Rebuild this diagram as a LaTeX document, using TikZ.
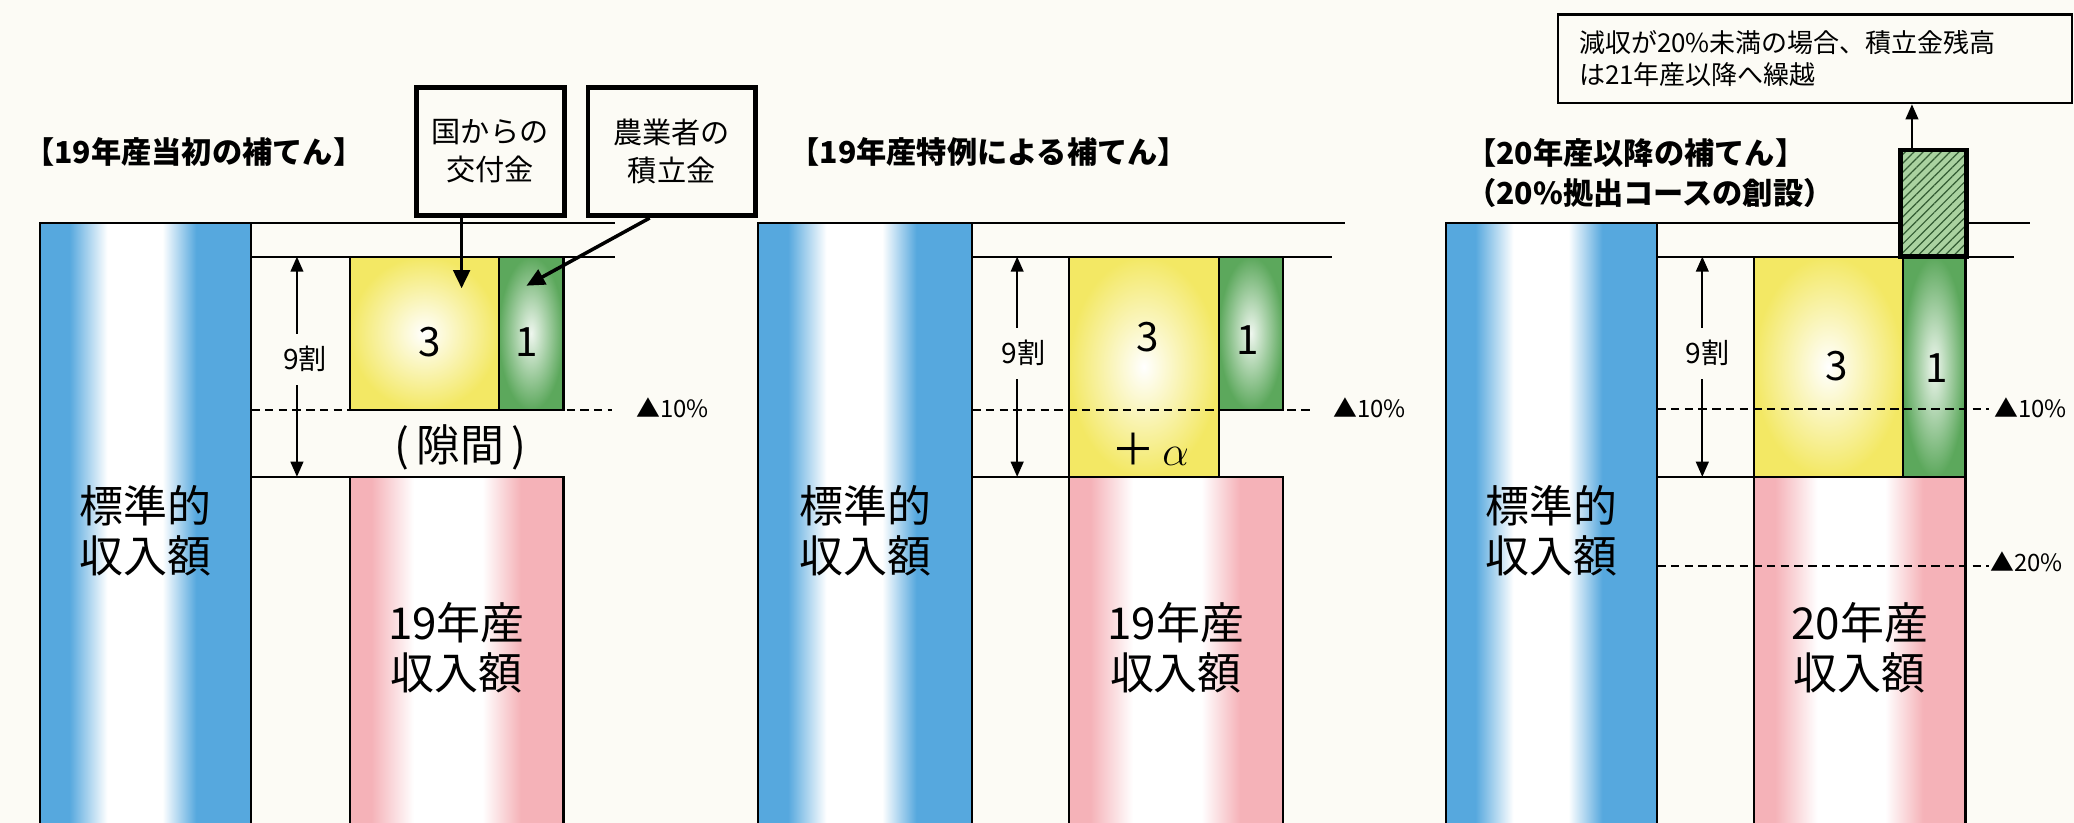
\documentclass[tikz,border=0pt]{standalone}
\usepackage{fontspec}
\setmainfont{Noto Sans CJK JP}
\usetikzlibrary{arrows.meta,positioning,patterns.meta}

\definecolor{bgcream}{RGB}{252,251,245}
\definecolor{stdblue}{RGB}{86,168,222}
\definecolor{incpink}{RGB}{245,178,184}
\definecolor{govyellow}{RGB}{243,232,100}
\definecolor{farmgreen}{RGB}{92,168,92}
\definecolor{hatchgreen}{RGB}{170,210,160}

\pgfdeclarehorizontalshading{stdshade}{100bp}{color(0bp)=(stdblue); color(25bp)=(stdblue); color(32bp)=(stdblue); color(41bp)=(white); color(54bp)=(white); color(62bp)=(stdblue); color(75bp)=(stdblue); color(100bp)=(stdblue)}
\pgfdeclarehorizontalshading{incshade}{100bp}{color(0bp)=(incpink); color(25bp)=(incpink); color(30bp)=(incpink); color(40bp)=(white); color(56bp)=(white); color(65bp)=(incpink); color(75bp)=(incpink); color(100bp)=(incpink)}

\begin{document}
\begin{tikzpicture}[x=0.013227cm, y=-0.013227cm,
    >={Triangle[length=4.3pt,width=3.6pt]},
    thinline/.style={line width=0.6pt},
    limitline/.style={line width=0.6pt, dash pattern=on 2.4pt off 1.5pt},
    stdbar/.style={draw, line width=0.6pt, shade, shading=stdshade},
    incbar/.style={draw, line width=0.6pt, shade, shading=incshade},
    govbox/.style={draw, line width=0.6pt, inner color=white, outer color=govyellow},
    farmbox/.style={draw, line width=0.6pt, inner color=farmgreen!10, outer color=farmgreen},
    feed/.style={line width=1pt, -{Triangle[length=5.2pt,width=4.7pt]}},
    headline/.style={font=\bfseries\fontsize{8.6}{11.3}\selectfont, inner sep=0pt},
    source/.style={draw, line width=1.4pt, align=center, inner sep=0pt,
                   minimum height=1.285cm, font=\fontsize{8.3}{10.8}\selectfont},
    amount/.style={align=center, inner sep=0pt, font=\fontsize{12.5}{14.3}\selectfont},
    sharetext/.style={inner sep=0pt, font=\fontsize{11.5}{12}\selectfont},
    ratio/.style={fill=bgcream, inner xsep=1pt, inner ysep=3.6pt, font=\fontsize{8}{9}\selectfont},
    droptext/.style={inner sep=0pt, font=\fontsize{6.8}{8}\selectfont}]
    %\draw[help lines] (0,0) grid (1568,622);

   \useasboundingbox (0,0) rectangle (1568,622);
   \fill[bgcream] (0,0) rectangle (1568,622);

   % 19 initial
   \path[stdbar] (30,168.5) rectangle (190,630);
   \draw[thinline] (190,168.5) -- (465,168.5);
   \draw[thinline] (190,194) -- (465,194);
   \path[govbox] (264.5,194) rectangle (377,310);
   \path[farmbox] (377,194) rectangle (426,310);
   \path[incbar] (264.5,360.5) rectangle (426,630);
   \draw[thinline] (190,360.5) -- (264.5,360.5);
   \draw[limitline] (190,310) -- (463,310);

   \node[headline] (title1) at (146.5,115) {【19年産当初の補てん】};
   \node[source, minimum width=1.48cm] (govfund) at (370.5,114.4) {国からの\\交付金};
   \node[source, minimum width=1.673cm] (farmfund) at (507.8,114.4) {農業者の\\積立金};
   \coordinate (govtip) at (349,218);
   \coordinate (farmtip) at (398,216);
   \draw[feed] (govtip |- govfund.south) -- (govtip);
   \draw[feed] ([xshift=-0.22cm]farmfund.south) -- (farmtip);

   \coordinate (ninetop1) at (224.5,194);
   \coordinate (ninebot1) at (224.5,360.5);
   \draw[thinline, <->] (ninetop1) -- (ninebot1);
   \node[ratio] (nine1) at (230.5,271.5) {9割};
   \node[sharetext] (three1) at (325,258.5) {3};
   \node[sharetext] (one1) at (398.5,258.5) {1};
   \node[amount] (gap1) at (348,338) {(\,隙間\,)};
   \node[droptext] (ten1) at (508.5,308) {▲10\%};
   \node[amount] (std1) at (110,401.5) {標準的\\収入額};
   \node[amount] (inc1) at (345,489.5) {19年産\\収入額};

   % 19 special case
   \path[stdbar] (573,168.5) rectangle (735,630);
   \draw[thinline] (735,168.5) -- (1017,168.5);
   \draw[thinline] (735,194) -- (1007,194);
   \path[govbox] (808,194) rectangle (921.5,360.5);
   \path[farmbox] (921.5,194) rectangle (970,310);
   \path[incbar] (808,360.5) rectangle (970,630);
   \draw[thinline] (735,360.5) -- (808,360.5);
   \draw[limitline] (735,310) -- (994,310);

   \node[headline] (title2) at (747.5,115) {【19年産特例による補てん】};
   \coordinate (ninetop2) at (769,194);
   \coordinate (ninebot2) at (769,360.5);
   \draw[thinline, <->] (ninetop2) -- (ninebot2);
   \node[ratio] (nine2) at (774,267) {9割};
   \node[sharetext] (three2) at (868,255) {3};
   \node[sharetext] (one2) at (943,257) {1};
   \node[amount] (alpha2) at (869.5,340) {＋\,$\alpha$};
   \node[droptext] (ten2) at (1035.5,308) {▲10\%};
   \node[amount] (std2) at (654,401.5) {標準的\\収入額};
   \node[amount] (inc2) at (889,489.5) {19年産\\収入額};

   % 20 onwards
   \path[stdbar] (1093,168.5) rectangle (1253,630);
   \draw[thinline] (1253,168.5) -- (1535,168.5);
   \draw[thinline] (1253,194) -- (1523,194);
   \path[govbox] (1326,194) rectangle (1438.5,360.5);
   \path[farmbox] (1438.5,194) rectangle (1486,360.5);
   \path[incbar] (1326,360.5) rectangle (1486,630);
   \draw[thinline] (1253,360.5) -- (1326,360.5);
   \path[draw, line width=1.4pt, preaction={fill=hatchgreen},
         pattern={Lines[angle=45,distance=1.8pt,line width=0.35pt]},
         pattern color=farmgreen!55!black] (1437,113.4) rectangle (1487,194);
   \draw[limitline] (1253,309) -- (1504,309);
   \draw[limitline] (1253,428) -- (1504,428);

   \node[headline, anchor=west, align=left] (title3) at (1108,131)
        {【20年産以降の補てん】\\（20\%拠出コースの創設）};
   \node[draw, line width=0.7pt, anchor=north west, text width=4.72cm, inner xsep=0.21cm,
         minimum height=0.886cm, align=left, font=\fontsize{7.4}{9.1}\selectfont]
        (carrynote) at (1177,10) {減収が20\%未満の場合、積立金残高\\は21年産以降へ繰越};
   \coordinate (carry) at (1445.5,113.4);
   \draw[thinline, ->] (carry) -- (carry |- carrynote.south);

   \coordinate (ninetop3) at (1287,194);
   \coordinate (ninebot3) at (1287,360.5);
   \draw[thinline, <->] (ninetop3) -- (ninebot3);
   \node[ratio] (nine3) at (1291,267) {9割};
   \node[sharetext] (three3) at (1388.5,277) {3};
   \node[sharetext] (one3) at (1464,278) {1};
   \node[droptext] (ten3) at (1535,308) {▲10\%};
   \node[droptext] (twenty3) at (1532,425) {▲20\%};
   \node[amount] (std3) at (1173,401.5) {標準的\\収入額};
   \node[amount] (inc3) at (1406,489.5) {20年産\\収入額};

\end{tikzpicture}
\end{document}
